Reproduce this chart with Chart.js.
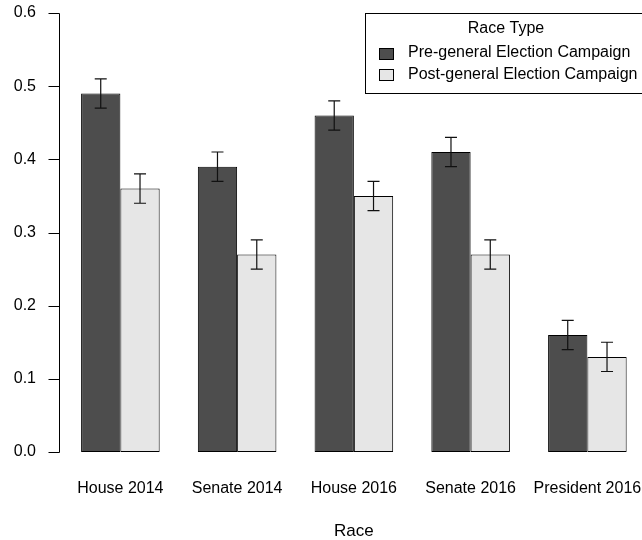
<!DOCTYPE html>
<html>
<head>
<meta charset="utf-8">
<script src="https://cdn.jsdelivr.net/npm/chart.js@4.4.1/dist/chart.umd.min.js"></script>
<style>
  html, body { margin: 0; padding: 0; background: #fff; overflow: hidden; }
  #wrap { position: relative; width: 680px; height: 540px; }
</style>
</head>
<body>
<div id="wrap"><canvas id="chart"></canvas></div>
<script>
/* Race type bar chart with error bars */

const races = ['House 2014', 'Senate 2014', 'House 2016', 'Senate 2016', 'President 2016'];

const preValues  = [0.49, 0.39, 0.46, 0.41, 0.16];
const preLower   = [0.47, 0.37, 0.44, 0.39, 0.14];
const preUpper   = [0.51, 0.41, 0.48, 0.43, 0.18];

const postValues = [0.36, 0.27, 0.35, 0.27, 0.13];
const postLower  = [0.34, 0.25, 0.33, 0.25, 0.11];
const postUpper  = [0.38, 0.29, 0.37, 0.29, 0.15];

const yTicks = [0.0, 0.1, 0.2, 0.3, 0.4, 0.5, 0.6];

const FONT = '"Liberation Sans", Arial, sans-serif';

const errorBars = {
  id: 'errorBars',
  afterDatasetsDraw(chart) {
    const ctx = chart.ctx;
    const y = chart.scales.y;
    ctx.save();
    ctx.strokeStyle = '#111';
    ctx.lineWidth = 1.2;
    chart.data.datasets.forEach((ds, i) => {
      chart.getDatasetMeta(i).data.forEach((bar, j) => {
        const x = bar.x;
        const top = y.getPixelForValue(ds.upper[j]);
        const bot = y.getPixelForValue(ds.lower[j]);
        ctx.beginPath();
        ctx.moveTo(x, top); ctx.lineTo(x, bot);
        ctx.moveTo(x - 6, top); ctx.lineTo(x + 6, top);
        ctx.moveTo(x - 6, bot); ctx.lineTo(x + 6, bot);
        ctx.stroke();
      });
    });
    ctx.restore();
  }
};

/* R-style y axis line sitting just left of the plot region */
const rAxis = {
  id: 'rAxis',
  afterDraw(chart) {
    const ctx = chart.ctx;
    const y = chart.scales.y;
    const ax = 59.5;
    ctx.save();
    ctx.strokeStyle = '#000';
    ctx.lineWidth = 1;
    ctx.beginPath();
    ctx.moveTo(ax, Math.round(y.getPixelForValue(yTicks[0])) + 0.5);
    ctx.lineTo(ax, Math.round(y.getPixelForValue(yTicks[yTicks.length - 1])) + 0.5);
    yTicks.forEach(v => {
      const py = Math.round(y.getPixelForValue(v)) + 0.5;
      ctx.moveTo(ax - 11, py); ctx.lineTo(ax, py);
    });
    ctx.stroke();
    ctx.restore();
  }
};

const boxLegend = {
  id: 'boxLegend',
  afterDraw(chart) {
    const ctx = chart.ctx;
    ctx.save();
    ctx.strokeStyle = '#000';
    ctx.lineWidth = 1;
    ctx.strokeRect(365.5, 13.5, 320, 80);
    ctx.fillStyle = '#000';
    ctx.font = '16px ' + FONT;
    ctx.textBaseline = 'middle';
    ctx.textAlign = 'center';
    ctx.fillText('Race Type', 506, 29);
    ctx.textAlign = 'left';
    chart.data.datasets.forEach((ds, i) => {
      const cy = 53 + i * 21.7;
      ctx.fillStyle = ds.backgroundColor;
      ctx.fillRect(379.5, Math.round(cy - 5.5) + 0.5, 14, 11);
      ctx.strokeRect(379.5, Math.round(cy - 5.5) + 0.5, 14, 11);
      ctx.fillStyle = '#000';
      ctx.fillText(ds.label, 408, cy);
    });
    ctx.restore();
  }
};

new Chart(document.getElementById('chart'), {
  type: 'bar',
  data: {
    labels: races,
    datasets: [
      {
        label: 'Pre-general Election Campaign',
        data: preValues, lower: preLower, upper: preUpper,
        backgroundColor: '#4d4d4d', borderColor: '#000', borderWidth: 1, borderSkipped: false,
        categoryPercentage: 0.673, barPercentage: 1,
      },
      {
        label: 'Post-general Election Campaign',
        data: postValues, lower: postLower, upper: postUpper,
        backgroundColor: '#e6e6e6', borderColor: '#000', borderWidth: 1, borderSkipped: false,
        categoryPercentage: 0.673, barPercentage: 1,
      },
    ],
  },
  options: {
    responsive: true,
    maintainAspectRatio: false,
    animation: false,
    layout: { padding: { top: 13, right: 34.25, left: 0, bottom: 0 } },
    plugins: { legend: { display: false }, tooltip: { enabled: false } },
    scales: {
      x: {
        offset: true,
        grid: { display: false },
        border: { display: false },
        ticks: { color: '#000', font: { family: FONT, size: 16 }, padding: 19, maxRotation: 0 },
        title: { display: true, text: 'Race', color: '#000', font: { family: FONT, size: 17, lineHeight: 1 }, padding: { top: 0, bottom: 0 } },
        afterFit(scale) { scale.height = 88; scale.paddingLeft = 0; scale.paddingRight = 0; },
      },
      y: {
        min: 0, max: 0.6,
        afterBuildTicks(scale) { scale.ticks = yTicks.map(v => ({ value: v })); },
        grid: { display: false, drawTicks: false },
        border: { display: false },
        ticks: {
          color: '#000', font: { family: FONT, size: 16 }, padding: 26,
          callback: v => v.toFixed(1),
        },
        afterFit(scale) { scale.width = 62; scale.paddingTop = 0; scale.paddingBottom = 0; },
      },
    },
  },
  plugins: [errorBars, rAxis, boxLegend],
});
</script>
</body>
</html>
